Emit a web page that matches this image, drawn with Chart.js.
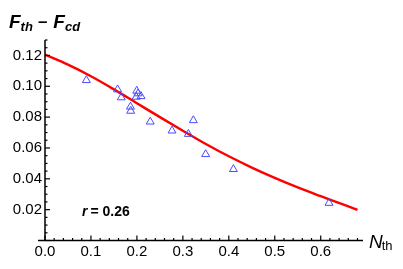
<!DOCTYPE html>
<html><head><meta charset="utf-8">
<script src="https://cdn.jsdelivr.net/npm/chart.js@4"></script>
<style>html,body{margin:0;padding:0;background:#fff}#wrap{width:403px;height:269px;position:relative}</style>
</head><body><div id="wrap"><canvas id="c" width="403" height="269"></canvas></div>
<script>
// measured points (N_th, F_th - F_cd)
const pointsX = [0.090, 0.158, 0.166, 0.1996, 0.2025, 0.209, 0.1985, 0.186, 0.1865, 0.229, 0.2765, 0.3228, 0.312, 0.3496, 0.410, 0.618];
const pointsY = [0.1039, 0.0979, 0.0927, 0.0970, 0.0953, 0.0935, 0.0931, 0.0867, 0.0840, 0.0770, 0.0712, 0.0779, 0.0690, 0.0559, 0.0462, 0.0243];
// fitted curve
const curveX = [0, 0.05, 0.10, 0.15, 0.20, 0.25, 0.30, 0.35, 0.40, 0.45, 0.50, 0.55, 0.60, 0.65, 0.68];
const curveY = [0.1205, 0.1140, 0.1065, 0.0980, 0.0890, 0.0800, 0.0712, 0.0626, 0.0546, 0.0473, 0.0406, 0.0344, 0.0287, 0.0232, 0.0198];
const xTicks = [0.0, 0.1, 0.2, 0.3, 0.4, 0.5, 0.6];
const yTicks = [0.02, 0.04, 0.06, 0.08, 0.10, 0.12];
const rText = "0.26";

const FONT = '"Liberation Sans", Arial, Helvetica, sans-serif';

const axesPlugin = {
  id: 'axesPlugin',
  afterDraw(chart) {
    const ctx = chart.ctx, xs = chart.scales.x, ys = chart.scales.y;
    const x0 = xs.getPixelForValue(0), y0 = ys.getPixelForValue(0);
    const xEnd = xs.getPixelForValue(xs.max), yTop = ys.getPixelForValue(ys.max);
    ctx.save();
    ctx.strokeStyle = '#000'; ctx.lineWidth = 1.5;
    ctx.beginPath();
    ctx.moveTo(x0 - 7, y0); ctx.lineTo(xEnd, y0);
    ctx.moveTo(x0, y0); ctx.lineTo(x0, yTop);
    ctx.stroke();
    ctx.lineWidth = 1.2;
    // x ticks (major 0.1, minor 0.02), drawn upward
    for (let i = 0; i * 0.02 <= xs.max + 1e-9; i++) {
      const v = i * 0.02, p = xs.getPixelForValue(v);
      const len = (i % 5 === 0) ? 5 : 2.5;
      ctx.beginPath(); ctx.moveTo(p, y0); ctx.lineTo(p, y0 - len); ctx.stroke();
    }
    // y ticks (major 0.02, minor 0.005), drawn right
    for (let i = 0; i * 0.005 <= ys.max + 1e-9; i++) {
      const v = i * 0.005, p = ys.getPixelForValue(v);
      const len = (i % 4 === 0) ? 5 : 2.5;
      ctx.beginPath(); ctx.moveTo(x0, p); ctx.lineTo(x0 + len, p); ctx.stroke();
    }
    ctx.fillStyle = '#000';
    ctx.textBaseline = 'alphabetic'; ctx.textAlign = 'left';
    // Title F_th - F_cd
    let x = 9, yb = 28;
    ctx.font = 'italic bold 19px ' + FONT; ctx.fillText('F', x, yb); x += ctx.measureText('F').width;
    ctx.font = 'italic bold 13px ' + FONT; ctx.fillText('th', x, yb + 3); x += ctx.measureText('th').width + 5;
    ctx.font = 'bold 17px ' + FONT; ctx.fillText('\u2013', x, yb - 1); x += ctx.measureText('\u2013').width + 6;
    ctx.font = 'italic bold 19px ' + FONT; ctx.fillText('F', x, yb); x += ctx.measureText('F').width;
    ctx.font = 'italic bold 13px ' + FONT; ctx.fillText('cd', x, yb + 3);
    // axis label N_th
    x = 369; yb = 248;
    ctx.font = 'italic 19px ' + FONT; ctx.fillText('N', x, yb); x += ctx.measureText('N').width - 1;
    ctx.font = '13px ' + FONT; ctx.fillText('th', x, yb + 2);
    // r = 0.26
    x = 82; yb = 216;
    ctx.font = 'italic bold 14px ' + FONT; ctx.fillText('r', x, yb); x += ctx.measureText('r').width + 3;
    ctx.font = 'bold 14px ' + FONT; ctx.fillText('= ' + rText, x, yb);
    ctx.restore();
  }
};

const scatterData = pointsX.map((v, i) => ({x: v, y: pointsY[i]}));
const curveData = curveX.map((v, i) => ({x: v, y: curveY[i]}));

new Chart(document.getElementById('c'), {
  type: 'scatter',
  data: {
    datasets: [
      {type: 'line', data: curveData, borderColor: '#ff0000', borderWidth: 2.4, pointRadius: 0,
       cubicInterpolationMode: 'monotone', fill: false, order: 2},
      {data: scatterData, pointStyle: 'triangle', pointRadius: 4.6, borderColor: '#4a4aff',
       backgroundColor: 'rgba(0,0,0,0)', borderWidth: 1, order: 1}
    ]
  },
  options: {
    responsive: false, animation: false, devicePixelRatio: 1,
    layout: {padding: {left: 0, right: 40, top: 40, bottom: 0}},
    plugins: {legend: {display: false}, tooltip: {enabled: false}, title: {display: false}},
    scales: {
      x: {type: 'linear', min: 0, max: 0.692,
        grid: {display: false, drawTicks: false}, border: {display: false},
        afterBuildTicks: s => { s.ticks = xTicks.map(v => ({value: v})); },
        afterFit: s => { s.height = 28.5; },
        ticks: {padding: 2, color: '#000', font: {family: FONT, size: 15}, maxRotation: 0, autoSkip: false,
          callback: v => Number(v).toFixed(1)}},
      y: {type: 'linear', min: 0, max: 0.13,
        grid: {display: false, drawTicks: false}, border: {display: false},
        afterBuildTicks: s => { s.ticks = yTicks.map(v => ({value: v})); },
        afterFit: s => { s.width = 45; },
        ticks: {padding: 3, color: '#000', font: {family: FONT, size: 15}, autoSkip: false,
          callback: v => Number(v).toFixed(2)}}
    }
  },
  plugins: [axesPlugin]
});
</script></body></html>
